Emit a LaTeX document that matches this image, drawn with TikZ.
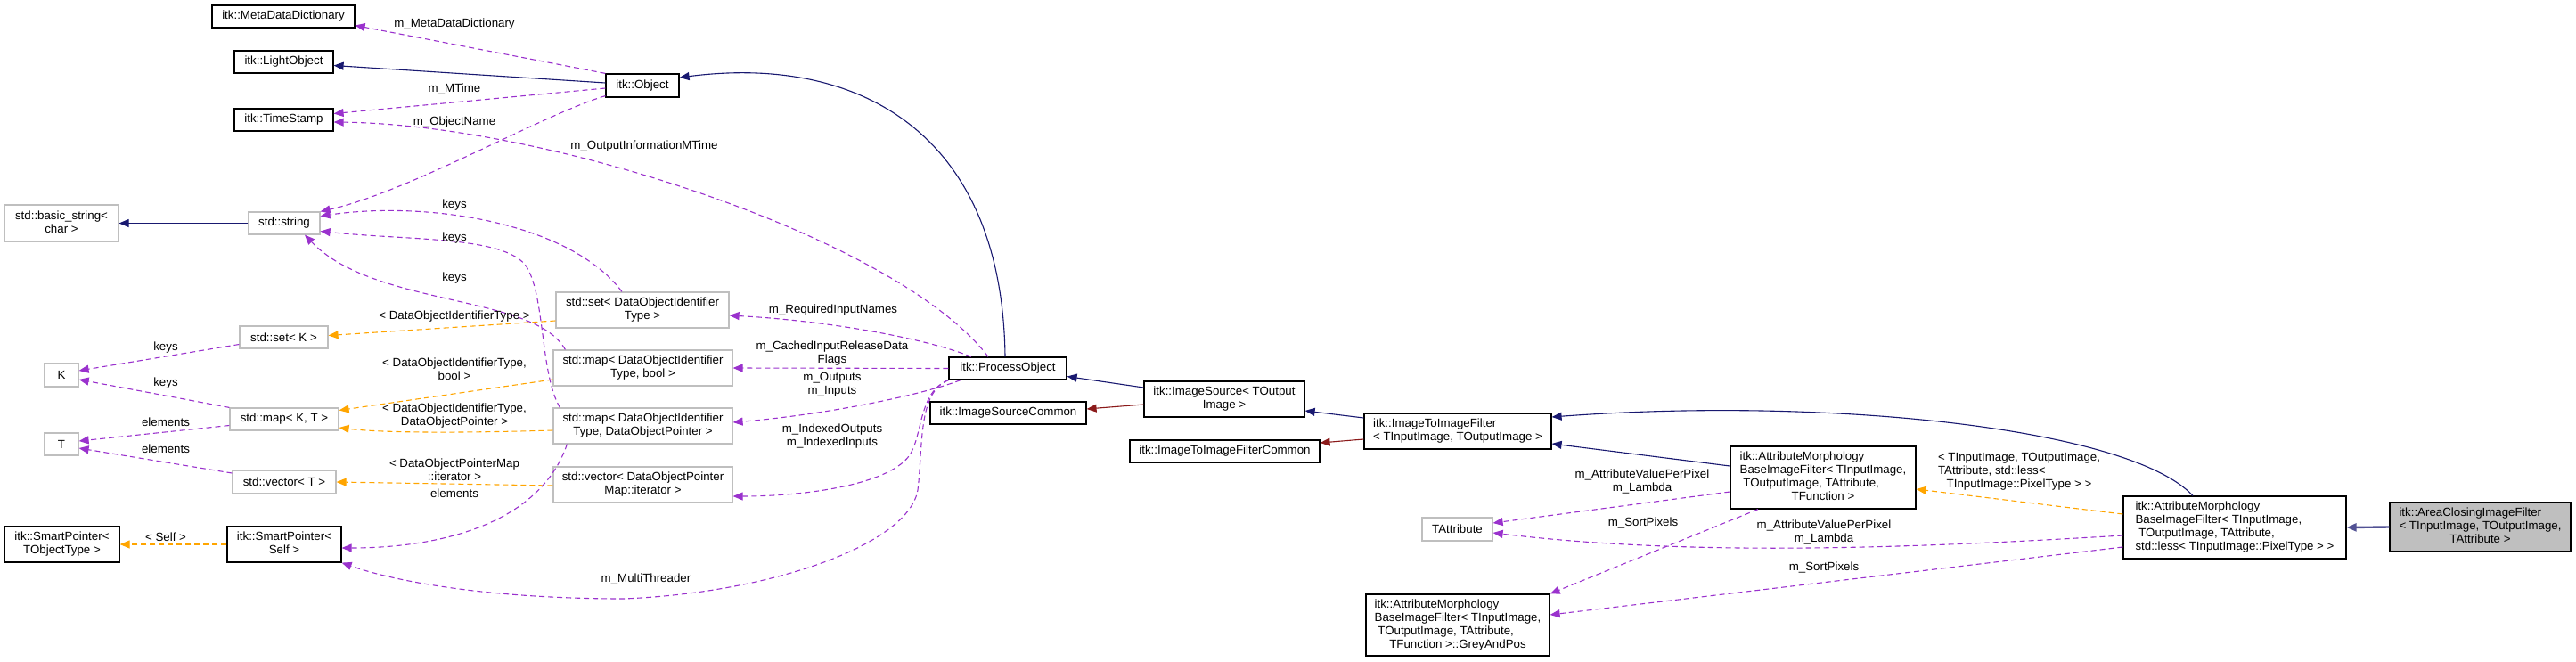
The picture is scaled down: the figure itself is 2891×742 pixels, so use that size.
\documentclass[tikz,border=0pt]{standalone}
\usepackage{fontspec}
\setmainfont{Liberation Sans}
\usepackage{tikz}
\usetikzlibrary{arrows.meta}
\definecolor{inhblue}{HTML}{191970}
\definecolor{prvred}{HTML}{8B1A1A}
\definecolor{usepurple}{HTML}{9A32CD}
\definecolor{tplorange}{HTML}{FFA500}
\definecolor{undocgrey}{HTML}{BFBFBF}
\newcommand{\twopart}[2]{\begin{tabular}{@{}l@{}}#1\\\multicolumn{1}{@{}c@{}}{#2}\end{tabular}}
\tikzset{
  cls/.style={draw=black, line width=1.2pt, fill=white, inner sep=0pt,
              minimum width=#1, minimum height=25pt, align=center},
  cls/.default=80pt,
  undoc/.style={draw=undocgrey},
  edge/.style={line width=1.1pt, -{Triangle[length=11pt,width=9pt]}},
  inh/.style={edge, draw=inhblue},
  prv/.style={edge, draw=prvred},
  tpl/.style={edge, draw=tplorange, dash pattern=on 6pt off 4pt},
  use/.style={edge, draw=usepurple, dash pattern=on 6pt off 4pt},
  lbl/.style={inner sep=0pt, align=center},
}

\begin{document}
\begin{tikzpicture}[x=1pt, y=-1pt, font=\fontsize{13.3}{15}\selectfont]
  \useasboundingbox (0,0) rectangle (2891,742);
  % classes
  \node[cls=160pt] (meta) at (318,18.5) {itk::MetaDataDictionary};
  \node[cls=111pt] (light) at (318.5,69.5) {itk::LightObject};
  \node[cls=82pt, minimum height=26pt] (obj) at (721,96) {itk::Object};
  \node[cls=111pt] (stamp) at (318.5,134.5) {itk::TimeStamp};
  \node[cls=128pt, undoc, minimum height=41pt] (bstr) at (69,250.5) {\twopart{std::basic\_string<}{char >}};
  \node[cls=80pt, undoc] (str) at (319,250.5) {std::string};
  \node[cls=99pt, undoc] (setK) at (318.5,378.5) {std::set< K >};
  \node[cls=38pt, undoc, minimum height=26pt] (K) at (69,421) {K};
  \node[cls=122pt, undoc] (mapKT) at (319,470.5) {std::map< K, T >};
  \node[cls=38pt, undoc] (T) at (69,498.5) {T};
  \node[cls=116pt, undoc, minimum height=26pt] (vecT) at (319,541) {std::vector< T >};
  \node[cls=129pt, minimum height=40pt] (spT) at (69.5,611) {\twopart{itk::SmartPointer<}{TObjectType >}};
  \node[cls=128pt, minimum height=40pt] (spS) at (319,611) {\twopart{itk::SmartPointer<}{Self >}};
  \node[cls=194pt, undoc, minimum height=40pt] (setD) at (721,348) {\twopart{std::set< DataObjectIdentifier}{Type >}};
  \node[cls=201pt, undoc, minimum height=40pt] (mapDb) at (721.5,413) {\twopart{std::map< DataObjectIdentifier}{Type, bool >}};
  \node[cls=201pt, undoc, minimum height=40pt] (mapDp) at (721.5,478) {\twopart{std::map< DataObjectIdentifier}{Type, DataObjectPointer >}};
  \node[cls=201pt, undoc, minimum height=40pt] (vecD) at (721.5,544) {\twopart{std::vector< DataObjectPointer}{Map::iterator >}};
  \node[cls=132pt] (po) at (1131,413.5) {itk::ProcessObject};
  \node[cls=175pt] (isc) at (1131.5,463.5) {itk::ImageSourceCommon};
  \node[cls=180pt, minimum height=40pt] (is) at (1374,448) {\twopart{itk::ImageSource< TOutput}{Image >}};
  \node[cls=210pt, minimum height=40pt] (itif) at (1636,484) {\twopart{itk::ImageToImageFilter}{< TInputImage, TOutputImage >}};
  \node[cls=213pt] (itifc) at (1374.5,506.5) {itk::ImageToImageFilterCommon};
  \node[cls=79pt, undoc, minimum height=26pt] (tattr) at (1635.5,594) {TAttribute};
  \node[cls=206pt, minimum height=69pt] (gap) at (1636,701.5)
    {\twopart{itk::AttributeMorphology\\BaseImageFilter< TInputImage,\\\ TOutputImage, TAttribute,}{TFunction >::GreyAndPos}};
  \node[cls=208pt, minimum height=70pt] (amf) at (2046,536)
    {\twopart{itk::AttributeMorphology\\BaseImageFilter< TInputImage,\\\ TOutputImage, TAttribute,}{TFunction >}};
  \node[cls=250pt, minimum height=70pt] (aml) at (2508,592)
    {\twopart{itk::AttributeMorphology\\BaseImageFilter< TInputImage,\\\ TOutputImage, TAttribute,}{std::less< TInputImage::PixelType > >}};
  \node[cls=203pt, minimum height=55pt, fill=undocgrey] (acl) at (2783.5,591.5)
    {\twopart{itk::AreaClosingImageFilter\\< TInputImage, TOutputImage,}{TAttribute >}};

  % inheritance
  \draw[inh] ([yshift=3pt]obj.west) -- ([yshift=-4pt]light.east);
  \draw[inh] ([xshift=-3pt]po.north) .. controls (1125,150) and (965,61) .. ([yshift=9pt]obj.east);
  \draw[inh] (str.west) -- (bstr.east);
  \draw[inh] ([yshift=13pt]is.west) -- ([yshift=-9pt]po.east);
  \draw[prv] ([yshift=-6pt]is.west) -- ([yshift=4.5pt]isc.east);
  \draw[inh] ([yshift=15pt]itif.west) -- ([yshift=-13pt]is.east);
  \draw[prv] ([yshift=-9pt]itif.west) -- ([yshift=9.5pt]itifc.east);
  \draw[inh] ([yshift=13pt]amf.west) -- ([yshift=-14pt]itif.east);
  \draw[inh] ([xshift=-47pt]aml.north) .. controls (2390,480) and (2050,445) .. ([yshift=16pt]itif.east);
  \draw[inh, draw=inhblue!75, line width=2.4pt] (acl.west) -- (aml.east);

  % templates
  \draw[tpl] ([yshift=-12pt]setD.west) -- ([yshift=2pt]setK.east);
  \draw[tpl] ([yshift=-13pt]mapDb.west) -- ([yshift=10pt]mapKT.east);
  \draw[tpl] ([yshift=-5pt]mapDp.west) .. controls (520,486) and (430,486) .. ([yshift=-9.5pt]mapKT.east);
  \draw[tpl] ([yshift=-1pt]vecD.west) -- (vecT.east);
  \draw[tpl] (spS.west) -- (spT.east);
  \draw[tpl] ([yshift=15pt]aml.west) -- ([yshift=-13pt]amf.east);

  % usage
  \draw[use] (obj.north west) -- ([yshift=-10pt]meta.east);
  \draw[use] ([yshift=-3pt]obj.west) -- ([yshift=7pt]stamp.east);
  \draw[use] ([yshift=2pt]obj.south west) .. controls (610,128) and (460,215) .. (str.north east);
  \draw[use] ([xshift=-22pt]po.north) .. controls (1010,270) and (620,140) .. ([yshift=-2.5pt]stamp.east);
  \draw[use] ([xshift=-23pt]setD.north) .. controls (640,250) and (480,225) .. ([yshift=8pt]str.east);
  \draw[use] ([xshift=8pt]mapDp.north west) .. controls (606,420) and (612,330) .. (590,298)
             .. controls (565,265) and (460,270) .. ([yshift=-9pt]str.east);
  \draw[use] ([xshift=14pt]mapDb.north west) .. controls (600,330) and (420,345) .. ([xshift=23pt]str.south);
  \draw[use] ([yshift=-8pt]setK.west) -- ([yshift=5pt]K.east);
  \draw[use] (mapKT.north west) -- ([yshift=-5pt]K.east);
  \draw[use] ([yshift=-7pt]mapKT.west) -- ([yshift=3.5pt]T.east);
  \draw[use] ([yshift=10pt]vecT.west) -- ([yshift=-4.5pt]T.east);
  \draw[use] ([xshift=16pt]mapDp.south west) .. controls (605,590) and (490,615) .. ([yshift=-4pt]spS.east);
  \draw[use] (po.south west) .. controls (1030,440) and (1036,500) .. (1030,550)
             .. controls (1020,610) and (870,665) .. (700,672)
             .. controls (560,672) and (450,655) .. (spS.south east);
  \draw[use] ([xshift=-41pt]po.north) .. controls (1040,380) and (930,360) .. ([yshift=-6pt]setD.east);
  \draw[use] (po.west) -- (mapDb.east);
  \draw[use] ([xshift=-53pt]po.south) .. controls (1030,445) and (920,466) .. ([yshift=4pt]mapDp.east);
  \draw[use] (po.south west) .. controls (1030,440) and (1036,490) .. (1020,512)
             .. controls (995,545) and (900,557) .. ([yshift=-13pt]vecD.east);
  \draw[use] ([yshift=-16pt]amf.west) -- ([yshift=7pt]tattr.east);
  \draw[use] ([xshift=-73pt]amf.south) -- (gap.north east);
  \draw[use] ([yshift=-9pt]aml.west) .. controls (2150,615) and (1900,625) .. ([yshift=-4pt]tattr.east);
  \draw[use] ([yshift=-22pt]aml.west) -- ([yshift=11.5pt]gap.east);

  % labels
  \node[lbl] (lMeta) at (510,27) {m\_MetaDataDictionary};
  \node[lbl] (lMTime) at (510,100) {m\_MTime};
  \node[lbl] (lName) at (510,137) {m\_ObjectName};
  \node[lbl] (lOIM) at (723,164) {m\_OutputInformationMTime};
  \node[lbl] (lKeys1) at (510,230) {keys};
  \node[lbl] (lKeys2) at (510,267) {keys};
  \node[lbl] (lKeys3) at (510,312) {keys};
  \node[lbl] (lSetD) at (510,355) {< DataObjectIdentifierType >};
  \node[lbl] (lKeys4) at (186,390) {keys};
  \node[lbl] (lKeys5) at (186,430) {keys};
  \node[lbl] (lMapDb) at (510,414) {< DataObjectIdentifierType,\\bool >};
  \node[lbl] (lElem1) at (186,474) {elements};
  \node[lbl] (lElem2) at (186,504) {elements};
  \node[lbl] (lMapDp) at (510,467) {< DataObjectIdentifierType,\\DataObjectPointer >};
  \node[lbl] (lVecD) at (510,527) {< DataObjectPointerMap\\::iterator >};
  \node[lbl] (lElem3) at (510,554) {elements};
  \node[lbl] (lSelf) at (186,603) {< Self >};
  \node[lbl] (lMT) at (725,650) {m\_MultiThreader};
  \node[lbl] (lReq) at (935,348) {m\_RequiredInputNames};
  \node[lbl] (lCache) at (934,397) {m\_CachedInputReleaseData\\Flags};
  \node[lbl] (lOut) at (934,432) {m\_Outputs\\m\_Inputs};
  \node[lbl] (lIdx) at (934,490) {m\_IndexedOutputs\\m\_IndexedInputs};
  \node[lbl] (lAvp1) at (1843,540) {m\_AttributeValuePerPixel\\m\_Lambda};
  \node[lbl] (lSort1) at (1844,587) {m\_SortPixels};
  \node[lbl] (lLess) at (2266,529) {\twopart{< TInputImage, TOutputImage,\\TAttribute, std::less<}{TInputImage::PixelType > >}};
  \node[lbl] (lAvp2) at (2047,597) {m\_AttributeValuePerPixel\\m\_Lambda};
  \node[lbl] (lSort2) at (2047,637) {m\_SortPixels};
\end{tikzpicture}
\end{document}
